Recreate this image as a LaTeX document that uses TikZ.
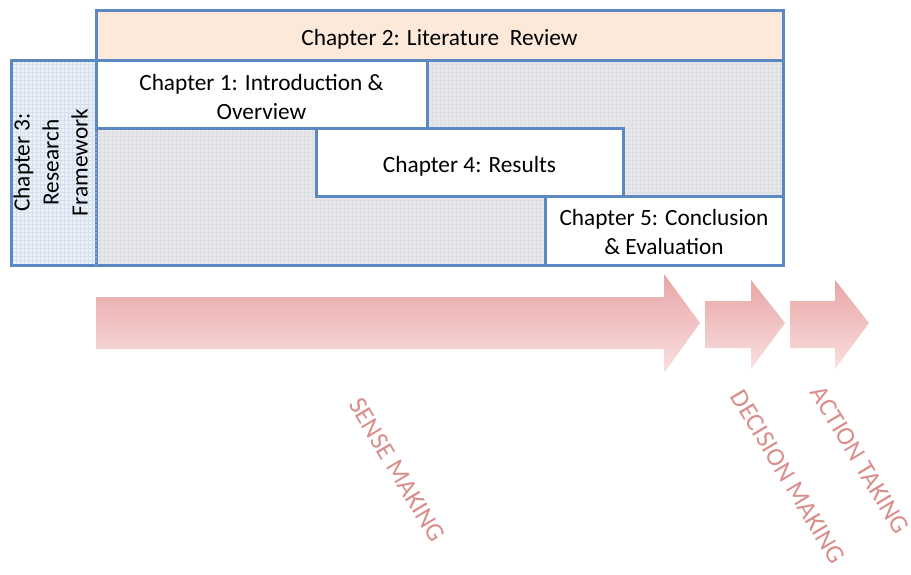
\documentclass[tikz,border=0pt]{standalone}
\usepackage{fontspec}
\setmainfont{Carlito}
\definecolor{bordblue}{HTML}{5B87C2}
\definecolor{peach}{HTML}{FCE9DA}
\definecolor{paleGray}{HTML}{EAE7E8}
\definecolor{gridGray}{HTML}{DDDFE8}
\definecolor{paleBlue}{HTML}{EAF0F8}
\definecolor{gridBlue}{HTML}{D5DFEE}
\definecolor{dotBlue}{HTML}{8AA9D6}
\definecolor{arrTop}{HTML}{E8A6A5}
\definecolor{arrBot}{HTML}{F9E0E0}
\definecolor{labRed}{HTML}{D98E8C}
\begin{document}
\begin{tikzpicture}[x=1pt,y=-1pt,
  chapbox/.style={draw=bordblue, line width=3pt, fill=white, inner sep=0pt,
    outer sep=0pt, anchor=north west},
  chaptext/.style={align=center, inner sep=0pt, font=\fontsize{23.3}{29}\selectfont},
  region/.style={draw=bordblue, line width=3pt, inner sep=0pt, outer sep=0pt,
    anchor=north west},
  phase/.style={shade, top color=arrTop, bottom color=arrBot, draw=none},
  phaselabel/.style={text=labRed, rotate=-59, font=\fontsize{26}{26}\selectfont}]
\useasboundingbox (0,0) rectangle (911,574);

% shaded working area behind the chapters
\fill[paleGray] (96,60) rectangle (783,265);
\draw[gridGray, line width=0.35pt, step=4pt] (96,60) grid (783,265);
\fill[paleBlue] (11,60) rectangle (96,265);
\draw[gridBlue, line width=0.35pt, step=4pt] (11,60) grid (96,265);

% research framework column
\node[region, minimum width=85pt, minimum height=205pt] (ch3) at (11,60) {};
\node[chaptext, rotate=90] (ch3text) at ([xshift=-3pt]ch3.center)
  {Chapter 3:\\Research\\Framework};
\node[region, minimum width=687pt, minimum height=205pt] (work) at (96,60) {};
\draw[dotBlue, line width=2pt, dotted] (96,128) -- (96,265);

% chapter boxes
\node[chapbox, minimum width=331pt, minimum height=68pt] (ch1) at (96,60) {};
\node[chaptext] (ch1text) at ([yshift=-2.5pt]ch1.center)
  {Chapter 1: Introduction \&\\Overview};
\node[chapbox, minimum width=307pt, minimum height=68pt] (ch4) at (316,128) {};
\node[chaptext] (ch4text) at ([yshift=-4pt]ch4.center) {Chapter 4: Results};
\node[chapbox, minimum width=238pt, minimum height=69pt] (ch5) at (545,196) {};
\node[chaptext] (ch5text) at ([yshift=-1.5pt]ch5.center)
  {Chapter 5: Conclusion\\\& Evaluation};
\node[chapbox, fill=peach, minimum width=687pt, minimum height=50pt] (ch2) at (96,10) {};
\node[chaptext] (ch2text) at ([yshift=-4pt]ch2.center) {Chapter 2: Literature \ Review};

% process arrows
\path[phase] (96,297) -- (664,297) -- (664,274) -- (700,323) -- (664,373)
  -- (664,349) -- (96,349) -- cycle;
\path[phase] (705,301) -- (751,301) -- (751,280) -- (785,323) -- (751,369)
  -- (751,348) -- (705,348) -- cycle;
\path[phase] (790,301) -- (835,301) -- (835,280) -- (869,323) -- (835,369)
  -- (835,348) -- (790,348) -- cycle;

% phase labels
\node[phaselabel] (sense) at (397,470) {SENSE MAKING};
\node[phaselabel] (decision) at (788,477) {DECISION MAKING};
\node[phaselabel] (action) at (860,460) {ACTION TAKING};
\end{tikzpicture}
\end{document}
